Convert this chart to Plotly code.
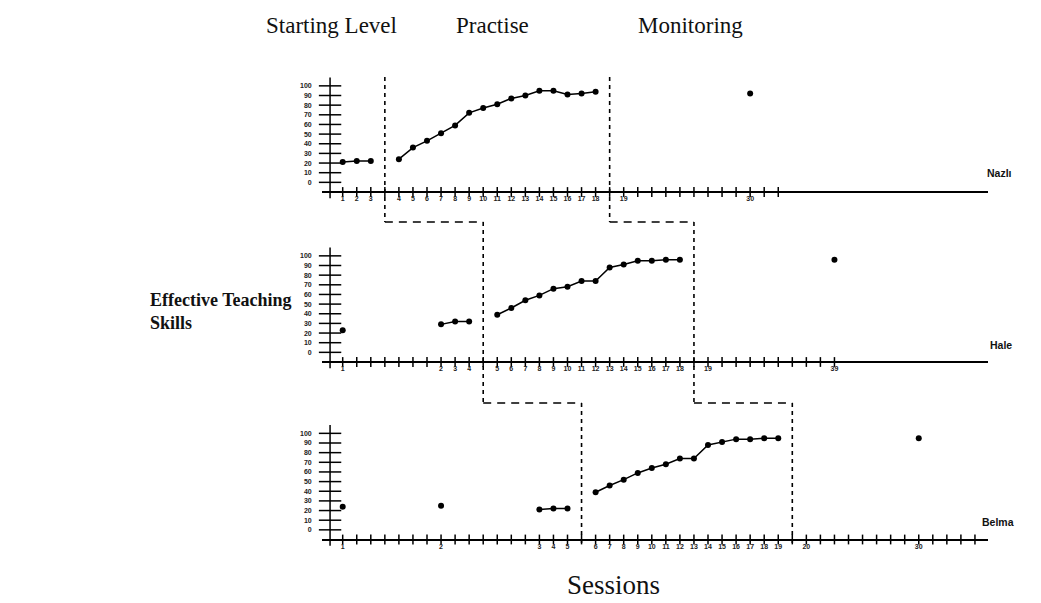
import plotly.graph_objects as go

# ---------------- data ----------------
Y_TICKS = [0, 10, 20, 30, 40, 50, 60, 70, 80, 90, 100]
AXIS_LEVEL = -10          # value at which the session axis is drawn
Y_AXIS_SLOT = 0.1         # slot position of the vertical score axis

# Nazlı
NAZLI_BASE_SLOTS = [1, 2, 3]
NAZLI_BASE = [21, 22, 22]
NAZLI_PRAC_SLOTS = [5, 6, 7, 8, 9, 10, 11, 12, 13, 14, 15, 16, 17, 18, 19]
NAZLI_PRAC = [24, 36, 43, 51, 59, 72, 77, 81, 87, 90, 95, 95, 91, 92, 94]
NAZLI_MON_SLOTS = [30]
NAZLI_MON = [92]
NAZLI_TICK_SLOTS = [1, 2, 3, 5, 6, 7, 8, 9, 10, 11, 12, 13, 14, 15, 16, 17, 18, 19, 21, 30]
NAZLI_TICK_TEXT = ["1", "2", "3", "4", "5", "6", "7", "8", "9", "10", "11", "12", "13",
                   "14", "15", "16", "17", "18", "19", "30"]
NAZLI_LAST_TICK = 32
NAZLI_PHASES = [4, 20]

# Hale
HALE_BASE_SLOTS = [1, 8, 9, 10]
HALE_BASE = [23, 29, 32, 32]
HALE_PRAC_SLOTS = [12, 13, 14, 15, 16, 17, 18, 19, 20, 21, 22, 23, 24, 25]
HALE_PRAC = [39, 46, 54, 59, 66, 68, 74, 74, 88, 91, 95, 95, 96, 96]
HALE_MON_SLOTS = [36]
HALE_MON = [96]
HALE_TICK_SLOTS = [1, 8, 9, 10, 12, 13, 14, 15, 16, 17, 18, 19, 20, 21, 22, 23, 24, 25, 27, 36]
HALE_TICK_TEXT = ["1", "2", "3", "4", "5", "6", "7", "8", "9", "10", "11", "12", "13",
                  "14", "15", "16", "17", "18", "19", "39"]
HALE_LAST_TICK = 36
HALE_PHASES = [11, 26]

# Belma
BELMA_BASE_SLOTS = [1, 8, 15, 16, 17]
BELMA_BASE = [24, 25, 21, 22, 22]
BELMA_PRAC_SLOTS = [19, 20, 21, 22, 23, 24, 25, 26, 27, 28, 29, 30, 31, 32]
BELMA_PRAC = [39, 46, 52, 59, 64, 68, 74, 74, 88, 91, 94, 94, 95, 95]
BELMA_MON_SLOTS = [42]
BELMA_MON = [95]
BELMA_TICK_SLOTS = [1, 8, 15, 16, 17, 19, 20, 21, 22, 23, 24, 25, 26, 27, 28, 29, 30, 31, 32, 34, 42]
BELMA_TICK_TEXT = ["1", "2", "3", "4", "5", "6", "7", "8", "9", "10", "11", "12", "13",
                   "14", "15", "16", "17", "18", "19", "20", "30"]
BELMA_LAST_TICK = 46
BELMA_PHASES = [18, 33]

HEADERS = ["Starting Level", "Practise", "Monitoring"]
Y_LABEL = "Effective Teaching<br>Skills"
X_LABEL = "Sessions"

# ---------------- layout geometry ----------------
PAGE_W, PAGE_H = 1041, 603
BODY = 8                         # default page margin around the figure
W, H = PAGE_W - BODY, PAGE_H - BODY
XL, XR = 321.7, 988.0            # session axis extent (page px)
SLOT1_PX, DX = 342.7, 14.05      # page px of slot 1, px per slot
X_RANGE = [1 - (SLOT1_PX - XL) / DX, 1 + (XR - SLOT1_PX) / DX]
AXIS_PX = [192.0, 362.0, 539.5]  # page px of session axis in each panel
UNIT = 0.965                     # px per score point
Y_RANGE = [-20, 112]


def paper_x(px):
    return (px - BODY) / W


def paper_y(px):
    return 1 - (px - BODY) / H


def panel_domain(i):
    top = AXIS_PX[i] - (Y_RANGE[1] - AXIS_LEVEL) * UNIT
    bot = AXIS_PX[i] + (AXIS_LEVEL - Y_RANGE[0]) * UNIT
    return [paper_y(bot), paper_y(top)]


def segments(slots, vals):
    xs, ys = [], []
    for j, (s, v) in enumerate(zip(slots, vals)):
        if j > 0 and s - slots[j - 1] > 1:
            xs.append(None)
            ys.append(None)
        xs.append(s)
        ys.append(v)
    return xs, ys


panels = [
    dict(name="Nazlı", series=[(NAZLI_BASE_SLOTS, NAZLI_BASE), (NAZLI_PRAC_SLOTS, NAZLI_PRAC),
                               (NAZLI_MON_SLOTS, NAZLI_MON)],
         tick_slots=NAZLI_TICK_SLOTS, tick_text=NAZLI_TICK_TEXT, last=NAZLI_LAST_TICK,
         phases=NAZLI_PHASES, name_px=(999, 173)),
    dict(name="Hale", series=[(HALE_BASE_SLOTS, HALE_BASE), (HALE_PRAC_SLOTS, HALE_PRAC),
                              (HALE_MON_SLOTS, HALE_MON)],
         tick_slots=HALE_TICK_SLOTS, tick_text=HALE_TICK_TEXT, last=HALE_LAST_TICK,
         phases=HALE_PHASES, name_px=(1001, 345)),
    dict(name="Belma", series=[(BELMA_BASE_SLOTS, BELMA_BASE), (BELMA_PRAC_SLOTS, BELMA_PRAC),
                               (BELMA_MON_SLOTS, BELMA_MON)],
         tick_slots=BELMA_TICK_SLOTS, tick_text=BELMA_TICK_TEXT, last=BELMA_LAST_TICK,
         phases=BELMA_PHASES, name_px=(998, 522)),
]

fig = go.Figure()
shapes = []
annotations = []
layout_axes = {}
TICK_FONT = dict(family="Liberation Sans", size=7, color="#222", weight="bold")

for i, p in enumerate(panels):
    xa = "x" if i == 0 else f"x{i + 1}"
    ya = "y" if i == 0 else f"y{i + 1}"
    xkey = "xaxis" if i == 0 else f"xaxis{i + 1}"
    ykey = "yaxis" if i == 0 else f"yaxis{i + 1}"

    # session tick crosses
    all_ticks = list(range(1, p["last"] + 1))
    fig.add_trace(go.Scatter(x=all_ticks, y=[AXIS_LEVEL] * len(all_ticks), mode="markers",
                             marker=dict(symbol="line-ns-open", size=7, color="black",
                                         line=dict(width=1.5, color="black")),
                             xaxis=xa, yaxis=ya, showlegend=False, hoverinfo="skip",
                             cliponaxis=False))
    # score tick crosses
    fig.add_trace(go.Scatter(x=[Y_AXIS_SLOT] * len(Y_TICKS), y=Y_TICKS, mode="markers",
                             marker=dict(symbol="line-ew-open", size=16, color="black",
                                         line=dict(width=1.5, color="black")),
                             xaxis=xa, yaxis=ya, showlegend=False, hoverinfo="skip",
                             cliponaxis=False))
    # data series
    for slots, vals in p["series"]:
        xs, ys = segments(slots, vals)
        fig.add_trace(go.Scatter(x=xs, y=ys, mode="lines+markers",
                                 line=dict(color="black", width=1.5),
                                 marker=dict(color="black", size=6),
                                 xaxis=xa, yaxis=ya, showlegend=False, cliponaxis=False))

    # vertical score axis line
    shapes.append(dict(type="line", xref=xa, yref=ya, x0=Y_AXIS_SLOT, x1=Y_AXIS_SLOT,
                       y0=108.7, y1=-16.6, line=dict(color="black", width=1.5)))

    layout_axes[xkey] = dict(domain=[paper_x(XL), paper_x(XR)], range=X_RANGE, anchor="free",
                             position=paper_y(AXIS_PX[i]), showline=True, linecolor="black",
                             linewidth=1.5, showgrid=False, zeroline=False, ticks="",
                             tickmode="array", tickvals=p["tick_slots"], ticktext=p["tick_text"],
                             tickfont=TICK_FONT, tickangle=0, fixedrange=True)
    layout_axes[ykey] = dict(domain=panel_domain(i), range=Y_RANGE, anchor=xa, showline=False,
                             showgrid=False, zeroline=False, ticks="", tickmode="array",
                             tickvals=Y_TICKS, ticktext=[str(v) for v in Y_TICKS],
                             tickfont=TICK_FONT, ticklabelstandoff=9, fixedrange=True)

    annotations.append(dict(text=p["name"], xref="paper", yref="paper",
                            x=paper_x(p["name_px"][0]), y=paper_y(p["name_px"][1]),
                            xanchor="center", yanchor="middle", showarrow=False,
                            font=dict(family="Liberation Sans", size=10.5, color="#111",
                                      weight="bold")))

# phase-change staircase (dashed)
STAIR_PX = [77, 222, 403, 545]
VDASH = "4px,4px"
HDASH = "8px,6px"
for k in range(2):
    for i, p in enumerate(panels):
        s = p["phases"][k]
        shapes.append(dict(type="line", xref="x", yref="paper", x0=s, x1=s,
                           y0=paper_y(STAIR_PX[i]), y1=paper_y(STAIR_PX[i + 1]),
                           line=dict(color="black", width=1.6, dash=VDASH)))
        if i < 2:
            s2 = panels[i + 1]["phases"][k]
            shapes.append(dict(type="line", xref="x", yref="paper", x0=s, x1=s2,
                               y0=paper_y(STAIR_PX[i + 1]), y1=paper_y(STAIR_PX[i + 1]),
                               line=dict(color="black", width=1.6, dash=HDASH)))

SERIF = "Liberation Serif"
HEADER_X = [331, 492, 690]
for txt, xpx in zip(HEADERS, HEADER_X):
    annotations.append(dict(text=txt, xref="paper", yref="paper", x=paper_x(xpx), y=paper_y(25),
                            xanchor="center", yanchor="middle", showarrow=False,
                            font=dict(family=SERIF, size=23, color="#111")))
annotations.append(dict(text=Y_LABEL, xref="paper", yref="paper", x=paper_x(148), y=paper_y(311),
                        xanchor="left", yanchor="middle", align="left", showarrow=False,
                        font=dict(family=SERIF, size=18, color="#111", weight="bold")))
annotations.append(dict(text=X_LABEL, xref="paper", yref="paper", x=paper_x(613), y=paper_y(585),
                        xanchor="center", yanchor="middle", showarrow=False,
                        font=dict(family=SERIF, size=27, color="#111")))

fig.update_layout(width=W, height=H, margin=dict(l=0, r=0, t=0, b=0),
                  paper_bgcolor="white", plot_bgcolor="rgba(0,0,0,0)",
                  shapes=shapes, annotations=annotations, showlegend=False, **layout_axes)

fig.write_html("out.html")
